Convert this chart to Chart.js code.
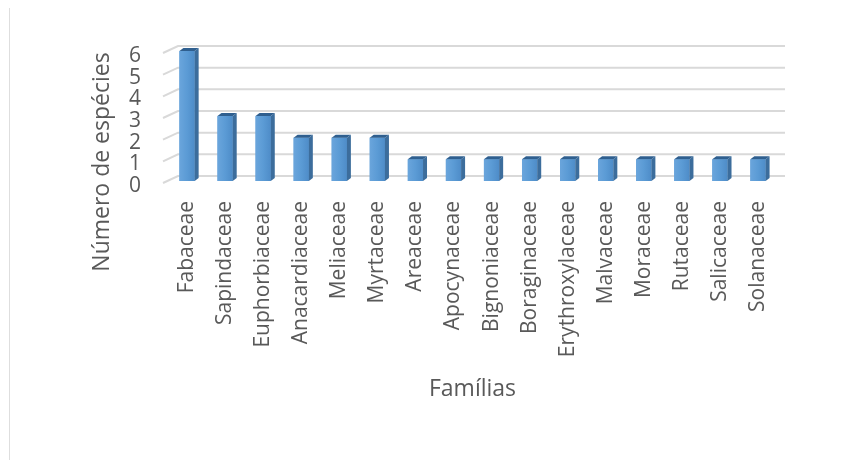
<!DOCTYPE html>
<html lang="pt">
<head>
<meta charset="UTF-8">
<title>Número de espécies por família</title>
<style>
  html, body { margin: 0; padding: 0; background: #fff; }
  .quadro { position: relative; width: 849px; height: 474px; }
  .borda { position: absolute; left: 9px; top: 8px; width: 1px; height: 452px; background: #dedede; }
  #grafico { position: absolute; left: 0; top: 0; }
</style>
</head>
<body>
<div class="quadro">
  <div class="borda"></div>
  <canvas id="grafico" width="849" height="474"></canvas>
</div>

<script src="https://cdn.jsdelivr.net/npm/chart.js"></script>
<script>
var familias = ['Fabaceae', 'Sapindaceae', 'Euphorbiaceae', 'Anacardiaceae', 'Meliaceae', 'Myrtaceae',
    'Areaceae', 'Apocynaceae', 'Bignoniaceae', 'Boraginaceae', 'Erythroxylaceae', 'Malvaceae',
    'Moraceae', 'Rutaceae', 'Salicaceae', 'Solanaceae'];
var especies = [6, 3, 3, 2, 2, 2, 1, 1, 1, 1, 1, 1, 1, 1, 1, 1];
var tituloX = 'Famílias';
var tituloY = 'Número de espécies';

var corTexto = '#595959';
var fonte = '"Open Sans", "Noto Sans", sans-serif';

// grade com efeito 3D (parede de fundo + pequenas diagonais à esquerda)
var grade3d = {
    id: 'grade3d',
    beforeDatasetsDraw: function (chart) {
        var ctx = chart.ctx;
        var y = chart.scales.y;
        var area = chart.chartArea;
        ctx.save();
        ctx.strokeStyle = '#d9d9d9';
        ctx.lineWidth = 2;
        y.ticks.forEach(function (t) {
            var yf = y.getPixelForValue(t.value);
            var yb = yf - 5;
            ctx.beginPath();
            ctx.moveTo(area.left - 5, yf + 2);
            ctx.lineTo(area.left + 10, yb);
            ctx.lineTo(area.right + 8, yb);
            ctx.stroke();
        });
        ctx.restore();
    }
};

// faces laterais e de cima das barras
var barras3d = {
    id: 'barras3d',
    afterDatasetsDraw: function (chart) {
        var ctx = chart.ctx;
        var d = 4, h = 3;
        ctx.save();
        chart.getDatasetMeta(0).data.forEach(function (bar) {
            var l = bar.x - bar.width / 2;
            var r = bar.x + bar.width / 2;
            var g = ctx.createLinearGradient(l, 0, r, 0);
            g.addColorStop(0, '#6aa5dc');
            g.addColorStop(0.5, '#5b9bd5');
            g.addColorStop(1, '#4e8cc8');
            ctx.fillStyle = g;
            ctx.fillRect(l, bar.y, bar.width, bar.base - bar.y);

            ctx.fillStyle = '#3c6d9c';
            ctx.beginPath();
            ctx.moveTo(r, bar.y);
            ctx.lineTo(r + d, bar.y - h);
            ctx.lineTo(r + d, bar.base - h);
            ctx.lineTo(r, bar.base);
            ctx.closePath();
            ctx.fill();

            ctx.fillStyle = '#2f5f8f';
            ctx.beginPath();
            ctx.moveTo(l, bar.y);
            ctx.lineTo(l + d, bar.y - h);
            ctx.lineTo(r + d, bar.y - h);
            ctx.lineTo(r, bar.y);
            ctx.closePath();
            ctx.fill();
        });
        ctx.restore();
    }
};

var tituloVertical = {
    id: 'tituloVertical',
    afterDraw: function (chart) {
        var ctx = chart.ctx;
        ctx.save();
        ctx.translate(102, 162);
        ctx.rotate(-Math.PI / 2);
        ctx.textAlign = 'center';
        ctx.textBaseline = 'middle';
        ctx.fillStyle = corTexto;
        ctx.font = '23px ' + fonte;
        ctx.fillText(tituloY, 0, 0);
        ctx.restore();
    }
};

function criarGrafico() {
    var ctx = document.getElementById('grafico').getContext('2d');
    new Chart(ctx, {
        type: 'bar',
        data: {
            labels: familias,
            datasets: [{
                label: tituloY,
                data: especies,
                backgroundColor: '#5b9bd5',
                borderWidth: 0,
                barPercentage: 0.4,
                categoryPercentage: 1.0
            }]
        },
        options: {
            responsive: false,
            animation: false,
            layout: { padding: { top: 51, right: 72, bottom: 67, left: 0 } },
            plugins: {
                legend: { display: false },
                tooltip: { enabled: false }
            },
            scales: {
                x: {
                    grid: { display: false, drawTicks: false },
                    border: { display: false },
                    ticks: {
                        autoSkip: false,
                        minRotation: 90,
                        maxRotation: 90,
                        padding: 20,
                        color: corTexto,
                        font: { family: fonte, size: 21 }
                    },
                    title: {
                        display: true,
                        text: tituloX,
                        color: corTexto,
                        font: { family: fonte, size: 23 }
                    },
                    afterFit: function (scale) { scale.height = 226; }
                },
                y: {
                    min: 0,
                    max: 6,
                    grid: { display: false, drawTicks: false },
                    border: { display: false },
                    ticks: {
                        stepSize: 1,
                        autoSkip: false,
                        padding: 27,
                        labelOffset: 5,
                        color: corTexto,
                        font: { family: fonte, size: 21, lineHeight: 1 }
                    },
                    afterFit: function (scale) { scale.width = 168; }
                }
            }
        },
        plugins: [grade3d, barras3d, tituloVertical]
    });
}

criarGrafico();
</script>
</body>
</html>
